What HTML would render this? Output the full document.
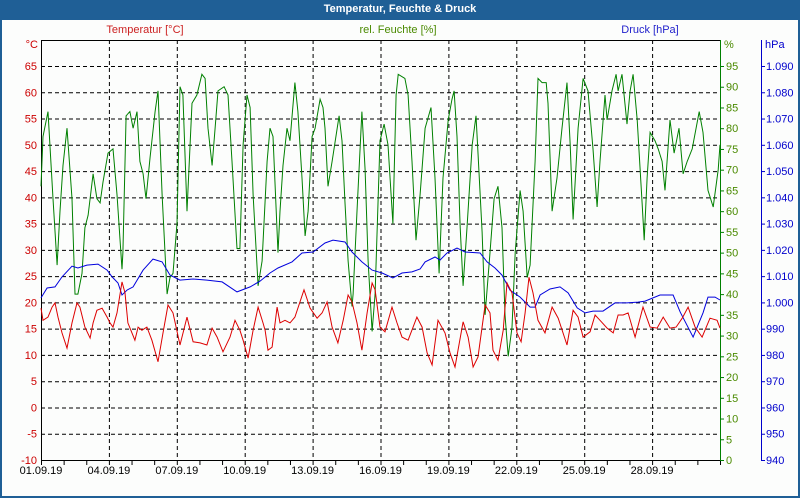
<!DOCTYPE html>
<html><head><meta charset="utf-8"><style>
html,body{margin:0;padding:0;width:800px;height:500px;overflow:hidden;background:#fff;font-family:"Liberation Sans",sans-serif}
#win{position:absolute;left:0;top:0;width:796px;height:496px;border:2px solid #1f5f96;border-top:none;background:#fcfdfc}
#title{position:absolute;left:0;top:0;width:800px;height:20px;background:#1f5f96;color:#fff;font-weight:bold;font-size:11px;text-align:center;line-height:18px}
svg{position:absolute;left:0;top:0}
</style></head><body>
<div id="win"></div>
<div id="title">Temperatur, Feuchte &amp; Druck</div>
<svg id="chart" width="800" height="500"></svg>
<script>
const dateLabels=["01.09.19","04.09.19","07.09.19","10.09.19","13.09.19","16.09.19","19.09.19","22.09.19","25.09.19","28.09.19"];
const tempTicks=[-10,-5,0,5,10,15,20,25,30,35,40,45,50,55,60,65];
const humTicks=[0,5,10,15,20,25,30,35,40,45,50,55,60,65,70,75,80,85,90,95];
const presTicks=[940,950,960,970,980,990,1000,1010,1020,1030,1040,1050,1060,1070,1080,1090];
const humDays=[0,0.09,0.31,0.53,0.71,0.84,0.97,1.15,1.37,1.5,1.63,1.81,1.94,2.08,2.3,2.47,2.61,2.74,2.96,3.18,3.36,3.58,3.62,3.76,3.93,4.07,4.24,4.37,4.51,4.64,4.82,5.04,5.17,5.35,5.57,5.7,5.83,6.01,6.14,6.27,6.45,6.67,6.89,7.11,7.25,7.38,7.56,7.69,7.82,8.09,8.26,8.44,8.66,8.79,8.93,9.1,9.24,9.37,9.59,9.77,9.99,10.12,10.25,10.47,10.56,10.69,10.87,11,11.22,11.35,11.53,11.67,11.8,11.98,12.11,12.33,12.46,12.55,12.68,12.86,13.17,13.3,13.43,13.57,13.74,13.79,13.96,14.18,14.32,14.45,14.63,14.76,14.98,15.16,15.33,15.55,15.69,15.78,16.08,16.22,16.39,16.57,16.75,16.97,17.23,17.41,17.59,17.76,17.99,18.16,18.25,18.38,18.52,18.65,18.82,19.05,19.22,19.31,19.49,19.62,19.84,20.02,20.19,20.37,20.5,20.64,20.81,20.95,21.17,21.3,21.48,21.61,21.83,21.96,22.14,22.32,22.4,22.58,22.8,23.02,23.24,23.38,23.51,23.73,23.95,24.17,24.39,24.57,24.7,24.92,25.01,25.23,25.41,25.5,25.67,25.89,26.03,26.16,26.34,26.56,26.65,26.78,26.91,27.13,27.27,27.44,27.57,27.79,27.97,28.19,28.37,28.55,28.77,29.08,29.25,29.47,29.7,29.92,30];
const humVals=[66,78,84,63,47,60,71,80,63,40,40,45,56,59,69,63,62,67,74,75,64,46,50,83,84,80,84,72,69,63,73,84,89,64,40,44,45,57,90,88,60,86,88,93,92,80,71,80,89,90,88,72,51,51,76,88,85,64,42,48,72,80,78,50,60,71,80,77,91,84,68,54,60,78,80,87,85,80,66,72,83,77,62,48,37,40,60,84,70,48,31,40,77,81,76,57,88,93,92,88,72,53,64,80,85,68,45,68,82,87,89,78,56,42,56,76,83,74,55,35,50,63,66,56,35,25,32,50,65,60,44,47,72,92,91,91,86,60,68,80,91,76,58,80,92,89,75,61,72,88,82,89,93,89,93,81,89,93,82,62,53,68,79,77,75,72,65,82,74,80,69,72,75,84,79,65,61,70,76];
const presDays=[0,0.27,0.62,0.93,1.37,1.63,2.03,2.52,2.92,3.14,3.4,3.58,3.8,4.07,4.51,4.95,5.35,5.7,6.14,6.72,7.33,8,8.66,9.24,9.68,10.12,10.47,11.09,11.53,12.02,12.55,12.9,13.43,13.74,14.18,14.63,15.07,15.55,15.95,16.39,16.75,16.97,17.41,17.63,17.94,18.38,18.74,19.4,19.71,20.06,20.37,20.72,21.17,21.61,21.83,22.05,22.49,22.93,23.29,23.69,24.04,24.39,24.83,25.36,25.89,26.38,26.69,27.35,27.93,28.24,28.81,29.25,29.47,29.78,30];
const presVals=[1001.7,1005.5,1005.9,1009.7,1013.8,1013.1,1014.2,1014.6,1012.3,1009.7,1007.4,1002.8,1004.7,1005.9,1012.3,1016.5,1015.4,1010.4,1008.5,1008.9,1008.5,1007.8,1004,1005.9,1008.1,1011.2,1013.1,1015.4,1018.8,1019.2,1022.6,1023.7,1023,1019.2,1015.4,1012.3,1011.2,1009.3,1011.2,1011.6,1012.7,1015.4,1017.3,1016.1,1018.8,1020.7,1019.2,1018.8,1015.4,1013.1,1010.4,1004.7,1002,998.2,998.2,1002.8,1005.1,1005.9,1003.6,997.9,996,996.7,996.7,999.8,999.8,1000.1,1000.5,1002.8,1002.8,996.3,986.8,996,1002,1002,1000.9];
const tempDays=[0,0.09,0.31,0.49,0.62,0.75,0.93,1.15,1.37,1.59,1.72,1.94,2.17,2.3,2.47,2.7,2.92,3.05,3.18,3.36,3.58,3.71,3.84,4.15,4.29,4.46,4.68,4.9,5.17,5.39,5.61,5.83,6.14,6.45,6.72,7.03,7.33,7.56,7.78,8.04,8.35,8.57,8.79,8.93,9.15,9.37,9.59,9.81,9.9,10.03,10.21,10.43,10.56,10.78,11,11.22,11.62,11.89,12.2,12.42,12.64,12.86,13.12,13.35,13.57,13.74,13.96,14.18,14.41,14.63,14.76,14.98,15.2,15.51,15.73,15.95,16.22,16.61,16.84,17.06,17.28,17.54,17.85,18.07,18.29,18.65,18.87,19.09,19.31,19.62,19.84,19.97,20.19,20.42,20.59,20.81,21.03,21.21,21.39,21.56,21.74,21.96,22.27,22.58,22.85,23.24,23.51,23.73,23.95,24.26,24.48,24.7,25.01,25.28,25.5,25.72,25.94,26.25,26.6,26.91,27.22,27.49,27.79,28.06,28.33,28.59,28.9,29.21,29.56,29.87,30];
const tempVals=[18.9,16.6,17.2,19.1,19.9,17.2,14.2,11.3,16.1,19.9,19.1,15.3,13.2,16.1,18.5,18.9,17.2,16.1,15.3,18,23.9,21.8,16.1,12.8,15.3,14.7,15.3,12.8,8.7,14.2,19.5,18,11.9,17.2,12.5,12.3,11.9,15.1,13.4,10.6,13.4,16.6,14.7,12.8,9.4,14.7,19.1,16.1,14.7,10.9,11.5,19.1,16.1,16.6,16.1,17.2,22.4,18.9,17,18,20.1,15.3,12.3,16.6,21.4,20.1,16.1,10.9,18,23.7,22.4,15.3,14.4,19.1,16.1,13.4,12.8,17.2,15.3,10.4,8.1,16.6,14.2,10.4,7.7,16.3,13.4,7.7,9.6,19.5,18,10.9,9,14.7,23.7,21.8,14.2,12.5,18,24.8,21.8,16.6,14.2,19.1,17,11.9,18.5,17.2,13.4,14.4,17.6,16.6,15.1,14.2,17.6,17.6,18,13.4,19.1,15.3,15.1,17.2,15.1,15.3,17,19.1,15.3,13.4,17,16.6,15.1];

const NS="http://www.w3.org/2000/svg";
const svg=document.getElementById('chart');
const L=41,R=720,T=40,B=460;
const xS=d=>L+(R-L)*d/30;
const yT=v=>B-(v+10)*(B-66)/75;
const yH=v=>B-v*(B-66)/95;
const yP=v=>B-(v-940)*(B-66)/150;
function mk(tag,attrs,parent){const e=document.createElementNS(NS,tag);for(const k in attrs)e.setAttribute(k,attrs[k]);(parent||svg).appendChild(e);return e;}
function txt(x,y,s,fill,anchor){const t=mk('text',{x:x,y:y,fill:fill,'font-size':'11','font-family':'Liberation Sans, sans-serif','text-anchor':anchor||'start'});t.textContent=s;return t;}

// grid
tempTicks.forEach(v=>{if(v>-10){const g=mk('line',{x1:L,x2:R,y1:yT(v)+0.5,y2:yT(v)+0.5,stroke:'#000','stroke-dasharray':'4,3'});

}});
dateLabels.forEach((s,i)=>{if(i>0){const g=mk('line',{x1:xS(i*3)+0.5,x2:xS(i*3)+0.5,y1:T,y2:B,stroke:'#000','stroke-dasharray':'4,3'});

}});
// frame
const fr=mk('path',{d:`M${L+0.5},${B}V${T+0.5}H${R}`,stroke:'#000',fill:'none'});


const xa=mk('line',{x1:L,x2:R,y1:B+0.5,y2:B+0.5,stroke:'#000'});


for(let d=0;d<=30;d++){const t=mk('line',{x1:xS(d)+0.5,x2:xS(d)+0.5,y1:B,y2:B+5,stroke:'#000'});

}
dateLabels.forEach((s,i)=>{const t=txt(xS(i*3),474,s,'#000','middle');

});
// left axis
tempTicks.forEach(v=>{const t=txt(37,yT(v)+4,String(v),'#cc0000','end');

});
const tu=txt(38,48,'°C','#cc0000','end');


// humidity axis
const ha=mk('line',{x1:R+0.5,x2:R+0.5,y1:T,y2:B,stroke:'#008000'});


humTicks.forEach(v=>{const k=mk('line',{x1:R,x2:R+4,y1:yH(v)+0.5,y2:yH(v)+0.5,stroke:'#008000'});


const t=txt(726,yH(v)+4,String(v),'#4a8a00');

});
const hu=txt(724,48,'%','#4a8a00');


// pressure axis
const pa=mk('line',{x1:761.5,x2:761.5,y1:T,y2:B,stroke:'#0000cc'});


presTicks.forEach(v=>{const k=mk('line',{x1:761,x2:765,y1:yP(v)+0.5,y2:yP(v)+0.5,stroke:'#0000cc'});


const t=txt(766,yP(v)+4,v===1000?'1.000':(v>1000?'1.0'+String(v-1000).padStart(2,'0'):String(v)),'#0000cc');

});
const pu=txt(765,48,'hPa','#0000cc');


// series titles
const s1=txt(145,33,'Temperatur [°C]','#cc2222','middle');


const s2=txt(398,33,'rel. Feuchte [%]','#4a8a00','middle');


const s3=txt(650,33,'Druck [hPa]','#2222cc','middle');


// series
function line(days,vals,yf,color,name){const pts=days.map((d,i)=>xS(d).toFixed(1)+','+yf(vals[i]).toFixed(1)).join(' ');
const p=mk('polyline',{points:pts,fill:'none',stroke:color,'stroke-width':'1'});

}
line(humDays,humVals,yH,'#008000','humidity-line');
line(presDays,presVals,yP,'#0000dd','pressure-line');
line(tempDays,tempVals,yT,'#dd0000','temperature-line');
</script>
</body></html>
